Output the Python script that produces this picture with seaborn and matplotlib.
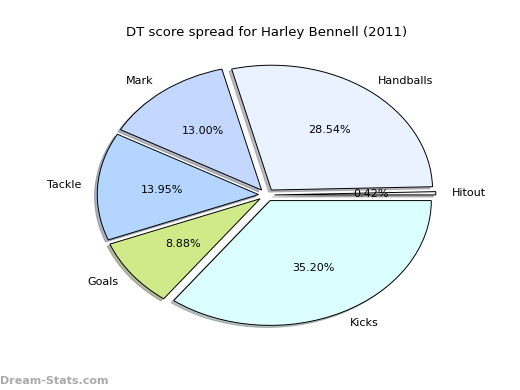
import matplotlib
matplotlib.use("Agg")
import seaborn as sns
import matplotlib.pyplot as plt

# DT score spread, counter-clockwise from 3 o'clock
categories = ["Hitout", "Handballs", "Mark", "Tackle", "Goals", "Kicks"]
shares = [0.42, 28.54, 13.00, 13.95, 8.88, 35.20]
colors = ["#f4f4f4", "#eaf1ff", "#c4d8ff", "#b3d5ff", "#d0ea8a", "#dbffff"]
explode = [0.05] * len(categories)

sns.set_style("white")
plt.rcParams["font.family"] = ["DejaVu Sans"]
plt.rcParams["text.color"] = "black"

fig = plt.figure(figsize=(5.2, 3.9), dpi=100)
ax = fig.add_axes([0.125, 0.1, 0.775, 0.8])

wedges, texts, autotexts = ax.pie(
    shares,
    labels=categories,
    colors=colors,
    explode=explode,
    autopct="%1.2f%%",
    shadow={"ox": -0.012, "oy": -0.012, "shade": 0.5},
    startangle=0,
    wedgeprops={"edgecolor": "black", "linewidth": 0.7},
    textprops={"fontsize": 8, "color": "black"},
)
ax.set_aspect("auto")
ax.set_xlim(-1.25, 1.25)
ax.set_ylim(-1.25, 1.25)
ax.set_axis_off()
ax.set_title("DT score spread for Harley Bennell (2011)", fontsize=9.5,
             pad=2, color="black")

fig.text(0.0, 0.01, "Dream-Stats.com", fontsize=8, color="#aaaaaa",
         fontweight="bold", ha="left", va="bottom")

fig.savefig("out.png", dpi=100, facecolor="white")
